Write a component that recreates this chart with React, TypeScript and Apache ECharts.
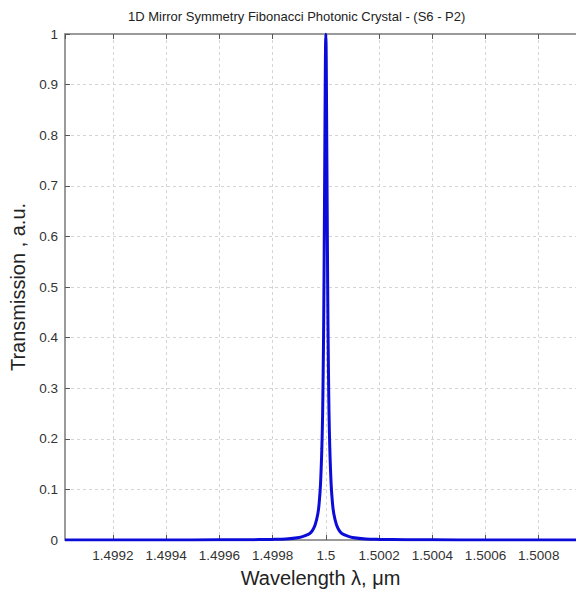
import React, { useEffect, useRef } from "react";
import * as echarts from "echarts";

const titleText = "1D Mirror Symmetry Fibonacci Photonic Crystal - (S6 - P2)";
const xName = "Wavelength \u03bb, \u03bcm";
const yName = "Transmission , a.u.";

// wavelength (µm)
const wavelengths = [
  1.49902, 1.4992, 1.4994, 1.4996, 1.4997, 1.4998, 1.49985, 1.4999, 1.49992, 1.49994,
  1.49995, 1.49996, 1.49997, 1.499975, 1.49998, 1.499985, 1.499988, 1.49999, 1.499992,
  1.499994, 1.499996, 1.499998, 1.499999, 1.5, 1.500001, 1.500002, 1.500004, 1.500006,
  1.500008, 1.50001, 1.500012, 1.500015, 1.50002, 1.500025, 1.50003, 1.50004, 1.50005,
  1.50006, 1.50008, 1.5001, 1.50015, 1.5002, 1.5003, 1.5004, 1.5006, 1.5008, 1.50094,
];
// transmission
const transmission = [
  0.0001, 0.0001, 0.0001, 0.0003, 0.0005, 0.0012, 0.002, 0.005, 0.008, 0.013,
  0.019, 0.03, 0.052, 0.073, 0.11, 0.18, 0.25, 0.33, 0.43,
  0.58, 0.75, 0.92, 0.98, 1.0, 0.98, 0.92, 0.75, 0.58,
  0.43, 0.33, 0.25, 0.18, 0.11, 0.073, 0.052, 0.03, 0.019,
  0.013, 0.008, 0.005, 0.002, 0.0012, 0.0005, 0.0003, 0.0001, 0.0001, 0.0001,
];

const xMin = 1.49902;
const xMax = 1.50094;
const xStep = 0.0002;
const yMin = 0;
const yMax = 1;
const yStep = 0.1;

export default function App() {
  const ref = useRef<HTMLDivElement>(null);
  useEffect(() => {
    if (!ref.current) return;
    const chart = echarts.init(ref.current, undefined, { renderer: "svg" });
    const font = "Liberation Sans, Arial, sans-serif";
    const xLabelFmt = (v: number) => {
      const r = Math.round(v / xStep) * xStep;
      if (Math.abs(r - v) > 1e-9) return "";
      return parseFloat(v.toFixed(4)).toString();
    };
    const axisLine = { show: true, lineStyle: { color: "#9a9a9a", width: 2 } };
    const axisTick = { show: true, inside: true, length: 5, lineStyle: { color: "#555", width: 1 } };
    const splitLine = { show: true, lineStyle: { color: "#d4d4d4", type: [3, 3] as any, width: 1 } };
    chart.setOption({
      animation: false,
      backgroundColor: "#ffffff",
      title: {
        text: titleText,
        left: 123,
        top: 5,
        textStyle: { fontFamily: font, fontSize: 13, fontWeight: "normal", color: "#222" },
      },
      grid: { left: 65, right: 0, top: 34, bottom: 54 },
      xAxis: [
        {
          type: "value",
          min: xMin,
          max: xMax,
          minInterval: xStep,
          maxInterval: xStep,
          position: "bottom",
          name: xName,
          nameLocation: "middle",
          nameGap: 28,
          nameTextStyle: { fontFamily: font, fontSize: 20, color: "#222" },
          axisLine,
          axisTick,
          splitLine,
          axisLabel: {
            formatter: xLabelFmt,
            fontFamily: font,
            fontSize: 13.5,
            color: "#333",
            margin: 8,
            showMinLabel: false,
            showMaxLabel: false,
          },
        },
        {
          type: "value",
          min: xMin,
          max: xMax,
          minInterval: xStep,
          maxInterval: xStep,
          position: "top",
          axisLine,
          axisTick,
          splitLine: { show: false },
          axisLabel: { show: false },
        },
      ],
      yAxis: {
        type: "value",
        min: yMin,
        max: yMax,
        interval: yStep,
        name: yName,
        nameLocation: "middle",
        nameGap: 37,
        nameTextStyle: { fontFamily: font, fontSize: 20, color: "#222" },
        axisLine,
        axisTick,
        splitLine,
        axisLabel: {
          fontFamily: font,
          fontSize: 13.5,
          color: "#333",
          margin: 7,
          formatter: (v: number) => parseFloat(v.toFixed(1)).toString(),
        },
      },
      series: [
        {
          type: "line",
          data: wavelengths.map((w, i) => [w, transmission[i]]),
          showSymbol: false,
          smooth: 0.3,
          clip: true,
          lineStyle: { color: "#0c0cd8", width: 3 },
        },
      ],
    });
    return () => chart.dispose();
  }, []);
  return (
    <div
      ref={ref}
      style={{ position: "fixed", left: 0, top: 0, width: 576, height: 594, background: "#fff" }}
    />
  );
}
